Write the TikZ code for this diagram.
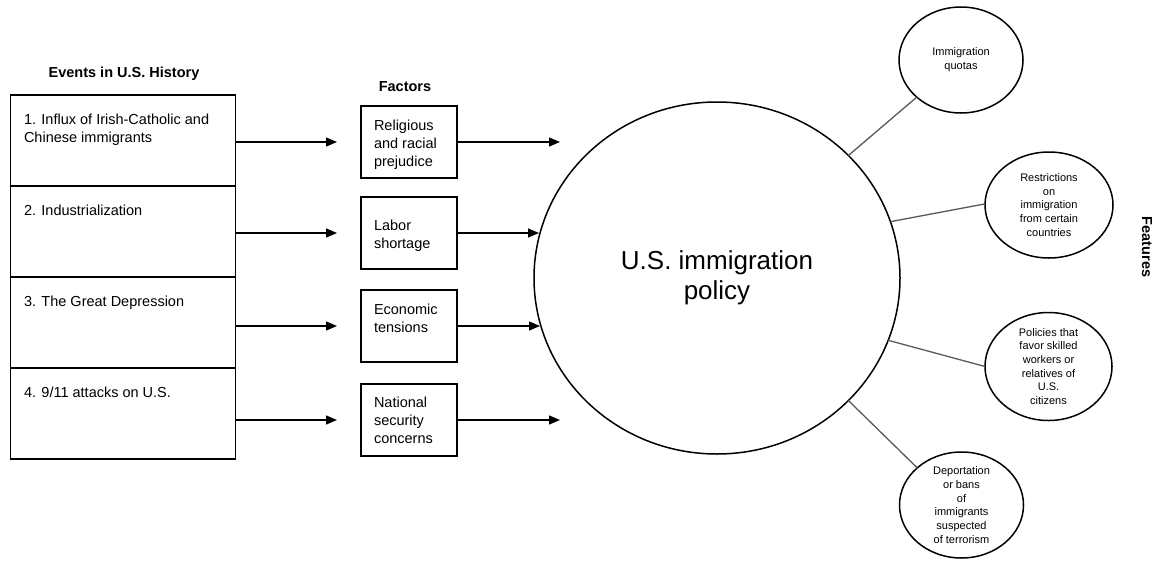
\documentclass[tikz,border=0pt]{standalone}
\usepackage{fontspec}
\setmainfont{Liberation Sans}
\usetikzlibrary{shapes.geometric,arrows.meta,calc}
\begin{document}
\begin{tikzpicture}[x=1pt,y=-1pt,
  every node/.style={inner sep=0pt, outer sep=0pt},
  evbox/.style={draw, line width=1.5pt, minimum width=225pt, minimum height=91pt, anchor=north west},
  fbox/.style={draw, line width=1.5pt, minimum width=96pt, minimum height=72pt, anchor=north west},
  maintext/.style={anchor=north west, align=left, font=\fontsize{14.5}{18}\selectfont},
  titletext/.style={font=\bfseries\fontsize{14.5}{18}\selectfont},
  bigc/.style={ellipse, draw, line width=1.5pt, minimum width=366pt, minimum height=352pt, align=center, font=\fontsize{26}{30}\selectfont},
  feat/.style={ellipse, draw, line width=1.5pt},
  ftext/.style={align=center, font=\fontsize{11}{13.7}\selectfont},
  arr/.style={line width=1.4pt, -{Triangle[length=11pt,width=9pt]}},
  conn/.style={line width=1.3pt, draw=black!65}
]
\useasboundingbox (0,0) rectangle (1156,560);

% titles
\node[titletext] (tev) at (124,74) {Events in U.S. History};
\node[titletext] (tfa) at (405,87) {Factors};
\node[titletext, rotate=-90] (tfe) at (1147,247) {Features};

% events column
\node[evbox] (ev1) at (10.5,95) {};
\node[evbox] (ev2) at (10.5,186) {};
\node[evbox] (ev3) at (10.5,277) {};
\node[evbox] (ev4) at (10.5,368) {};
\node[maintext] (evt1) at ($(ev1.north west)+(13.5,19)$) {1. Influx of Irish-Catholic and\\Chinese immigrants};
\node[maintext] (evt2) at ($(ev2.north west)+(13.5,19)$) {2. Industrialization};
\node[maintext] (evt3) at ($(ev3.north west)+(13.5,19)$) {3. The Great Depression};
\node[maintext] (evt4) at ($(ev4.north west)+(13.5,19)$) {4. 9/11 attacks on U.S.};

% factor boxes
\node[fbox] (f1) at (361,106) {};
\node[fbox] (f2) at (361,197) {};
\node[fbox] (f3) at (361,290) {};
\node[fbox] (f4) at (361,384) {};
\node[maintext] (ft1) at ($(f1.north west)+(13,14)$) {Religious\\and racial\\prejudice};
\node[maintext] (ft2) at ($(f2.north west)+(13,23)$) {Labor\\shortage};
\node[maintext] (ft3) at ($(f3.north west)+(13,14)$) {Economic\\tensions};
\node[maintext] (ft4) at ($(f4.north west)+(13,13)$) {National\\security\\concerns};

% arrows events -> factors
\draw[arr, shorten >=24pt] (ev1.east |- f1.west) -- (f1.west);
\draw[arr, shorten >=24pt] (ev2.east |- f2.west) -- (f2.west);
\draw[arr, shorten >=24pt] (ev3.east |- f3.west) -- (f3.west);
\draw[arr, shorten >=24pt] (ev4.east |- f4.west) -- (f4.west);

% central policy
\node[bigc] (pol) at (717,278) {U.S. immigration\\policy};

% arrows factors -> policy
\coordinate (t1) at (560,142);
\coordinate (t2) at (539,233);
\coordinate (t3) at (540,326);
\coordinate (t4) at (560,420);
\draw[arr] (f1.east) -- (f1.east -| t1);
\draw[arr] (f2.east) -- (f2.east -| t2);
\draw[arr] (f3.east) -- (f3.east -| t3);
\draw[arr] (f4.east) -- (f4.east -| t4);

% features
\node[feat, minimum width=124pt, minimum height=106pt] (q1) at (961,60) {};
\node[feat, minimum width=128pt, minimum height=106pt] (q2) at (1049,205) {};
\node[feat, minimum width=127pt, minimum height=108pt] (q3) at (1048.5,366.5) {};
\node[feat, minimum width=124pt, minimum height=106pt] (q4) at (961.5,505) {};
\node[ftext] (qt1) at (q1) {Immigration\\quotas};
\node[ftext] (qt2) at (q2) {Restrictions\\on\\immigration\\from certain\\countries};
\node[ftext] (qt3) at (q3) {Policies that\\favor skilled\\workers or\\relatives of\\U.S.\\citizens};
\node[ftext] (qt4) at (q4) {Deportation\\or bans\\of\\immigrants\\suspected\\of terrorism};

% connectors
\draw[conn] (pol.43.9) -- (q1.220.3);
\draw[conn] (pol.18.1) -- (q2.179);
\draw[conn] (pol.-20.3) -- (q3.180);
\draw[conn] (pol.-43.9) -- (q4.140.1);
\end{tikzpicture}
\end{document}
